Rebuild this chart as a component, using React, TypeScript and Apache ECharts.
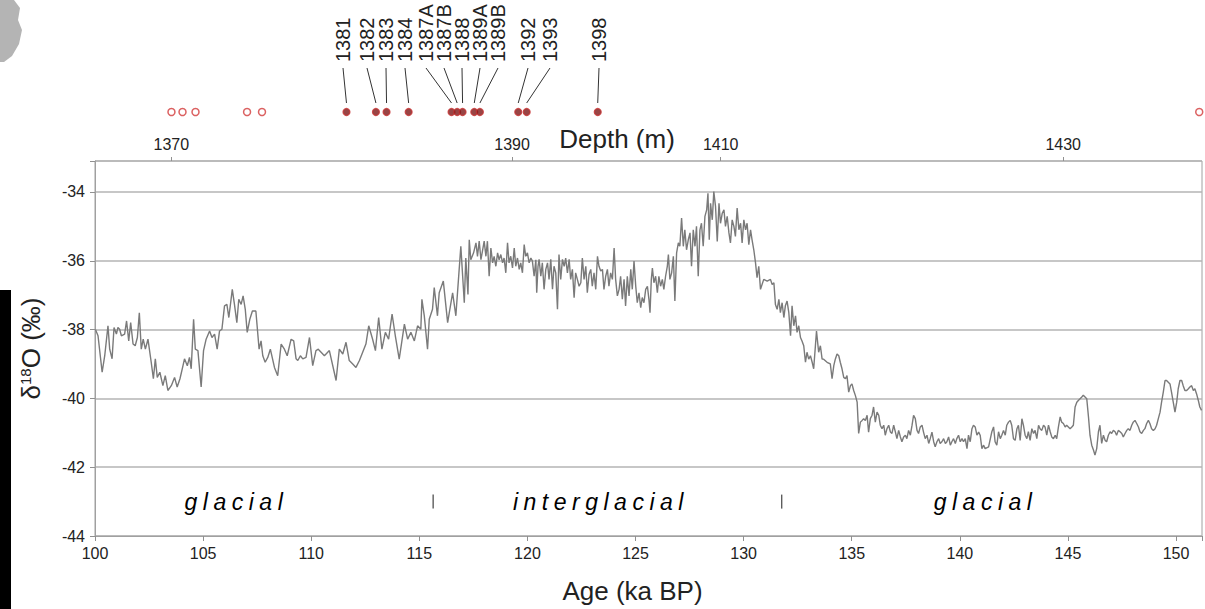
import React, { useEffect, useRef } from 'react';
import * as echarts from 'echarts';

// δ18O record, [age (ka BP), δ18O (‰)]
const glacialEarly: [number, number][] = [
  [100.02,-38.00],[100.14,-38.18],[100.33,-39.24],[100.45,-38.76],[100.60,-37.89],[100.68,-38.57],[100.79,-38.85],[100.88,-37.94],[100.99,-38.13],[101.06,-37.94],
  [101.14,-37.99],[101.22,-38.18],[101.37,-38.13],[101.46,-37.75],[101.56,-38.33],[101.65,-37.80],[101.76,-38.42],[101.86,-38.47],[101.96,-38.23],[102.05,-37.51],
  [102.14,-38.57],[102.23,-38.28],[102.33,-38.57],[102.45,-38.28],[102.60,-38.95],[102.70,-39.43],[102.79,-38.85],[102.88,-39.39],[103.00,-39.24],[103.14,-39.63],
  [103.25,-39.34],[103.37,-39.77],[103.53,-39.63],[103.68,-39.39],[103.80,-39.67],[103.93,-39.43],[104.07,-39.05],[104.14,-38.85],[104.27,-39.05],[104.37,-38.81],
  [104.45,-39.14],[104.56,-37.70],[104.64,-38.57],[104.76,-38.61],[104.91,-39.67],[105.02,-38.61],[105.14,-38.28],[105.30,-38.04],[105.41,-38.23],[105.53,-38.13],
  [105.65,-38.57],[105.76,-38.04],[105.87,-37.99],[105.99,-37.31],[106.10,-37.27],[106.19,-37.65],[106.35,-36.83],[106.45,-37.27],[106.56,-37.80],[106.65,-37.12],
  [106.76,-37.27],[106.85,-37.02],[106.95,-37.41],[107.04,-38.08],[107.16,-37.70],[107.28,-37.46],[107.44,-37.46],[107.59,-38.57],[107.68,-38.33],[107.76,-38.76],
  [107.87,-38.95],[107.99,-38.81],[108.11,-38.57],[108.30,-39.10],[108.45,-39.34],[108.61,-38.42],[108.76,-38.57],[108.89,-38.76],[109.07,-38.28],[109.19,-38.33],
  [109.30,-38.85],[109.38,-38.90],[109.50,-38.76],[109.61,-38.85],[109.76,-38.81],[109.92,-38.23],[110.07,-39.05],[110.22,-38.61],[110.33,-38.57],
];

const glacialRise: [number, number][] = [
  [110.38,-38.61],[110.61,-38.76],[110.84,-38.61],[111.15,-39.48],[111.30,-38.57],[111.46,-38.71],[111.61,-38.37],[111.76,-38.90],[111.92,-39.00],[112.07,-39.10],
  [112.23,-38.90],[112.38,-38.66],[112.53,-38.42],[112.66,-37.89],[112.84,-38.28],[112.97,-38.61],[113.12,-37.65],[113.27,-38.57],[113.43,-38.08],[113.58,-38.28],
  [113.74,-37.55],[113.89,-38.18],[114.07,-38.86],[114.31,-37.84],[114.46,-38.28],[114.61,-38.08],[114.77,-38.33],[114.92,-37.89],[115.07,-37.99],[115.12,-37.12],
  [115.23,-37.60],[115.38,-38.57],[115.46,-37.70],[115.61,-37.41],[115.69,-36.78],[115.84,-37.60],[115.92,-36.93],[116.11,-36.59],[116.31,-37.80],[116.54,-36.93],
  [116.69,-37.60],[116.92,-35.58],[117.08,-37.22],[117.15,-35.92],[117.25,-36.98],
];

const interglacialEarly: [number, number][] = [
  [117.31,-35.39],[117.38,-35.97],[117.51,-35.77],[117.62,-35.48],[117.69,-35.87],[117.77,-35.43],[117.85,-35.97],[117.92,-35.72],[118.00,-35.43],[118.08,-35.87],
  [118.15,-35.43],[118.23,-36.45],[118.31,-35.63],[118.39,-36.06],[118.46,-35.87],[118.54,-36.16],[118.62,-35.77],[118.69,-35.97],[118.77,-35.82],[118.85,-36.06],
  [118.92,-35.92],[119.00,-36.35],[119.08,-35.48],[119.15,-36.06],[119.23,-35.87],[119.31,-36.21],[119.39,-35.63],[119.46,-36.16],[119.54,-35.92],[119.62,-36.25],
  [119.69,-36.06],[119.77,-36.35],[119.85,-35.53],[119.92,-35.87],[120.00,-35.77],[120.08,-36.06],[120.16,-35.92],[120.23,-36.01],[120.31,-36.45],[120.39,-35.97],
  [120.43,-36.93],[120.49,-36.16],
];

const interglacialLate: [number, number][] = [
  [120.54,-35.96],[120.62,-36.45],[120.69,-36.06],[120.77,-36.83],[120.85,-36.25],[120.93,-36.06],[121.00,-36.54],[121.08,-35.96],[121.16,-36.83],[121.23,-36.16],
  [121.31,-36.35],[121.39,-37.41],[121.46,-35.82],[121.54,-36.54],[121.62,-35.96],[121.70,-36.16],[121.77,-35.92],[121.85,-36.35],[121.93,-35.96],[122.00,-36.54],
  [122.08,-36.25],[122.16,-37.07],[122.23,-36.35],[122.31,-36.54],[122.39,-36.74],[122.47,-36.64],[122.54,-35.92],[122.62,-36.54],[122.70,-36.16],[122.77,-36.93],
  [122.85,-36.40],[122.93,-36.25],[123.00,-36.74],[123.08,-36.35],[123.16,-36.83],[123.24,-35.87],[123.31,-36.16],[123.39,-36.30],[123.47,-36.25],[123.54,-36.83],
  [123.62,-36.45],[123.70,-36.25],[123.77,-36.74],[123.85,-36.35],[123.93,-36.54],[124.01,-35.63],[124.08,-36.54],[124.16,-37.02],[124.24,-36.83],[124.31,-36.45],
  [124.39,-37.12],[124.47,-36.54],[124.54,-37.31],[124.62,-36.45],[124.70,-37.02],[124.78,-36.25],[124.85,-36.83],[124.93,-36.01],[125.01,-36.74],[125.08,-37.22],
  [125.16,-36.93],[125.24,-37.36],[125.31,-37.07],[125.39,-37.22],[125.47,-36.83],[125.55,-36.74],[125.62,-37.12],[125.67,-37.51],[125.73,-36.54],[125.78,-36.21],
  [125.85,-36.64],[125.93,-36.45],[126.01,-36.93],[126.08,-36.45],[126.16,-36.74],[126.24,-36.54],[126.31,-36.83],[126.39,-36.45],[126.47,-36.16],[126.52,-35.82],
  [126.59,-36.54],[126.67,-36.35],[126.75,-35.87],[126.82,-37.17],[126.90,-35.77],[126.98,-35.48],[127.05,-35.58],[127.13,-34.76],[127.21,-35.58],[127.28,-35.10],
  [127.36,-35.68],[127.44,-35.39],[127.52,-35.19],[127.59,-36.16],[127.67,-35.10],[127.75,-35.58],[127.82,-35.00],[127.90,-36.45],[127.98,-35.10],[128.05,-34.91],
  [128.13,-35.58],[128.21,-34.71],[128.29,-34.52],[128.35,-34.04],[128.41,-35.39],[128.47,-34.33],[128.55,-34.81],[128.62,-33.99],[128.70,-34.42],[128.78,-35.44],
  [128.86,-34.33],[128.93,-34.91],[129.01,-34.62],[129.09,-34.52],[129.16,-35.00],[129.24,-34.71],[129.32,-35.19],[129.39,-35.48],[129.47,-34.81],[129.55,-35.00],
  [129.62,-35.29],[129.70,-34.47],[129.78,-35.10],[129.86,-34.91],[129.93,-35.48],[130.01,-34.81],[130.09,-35.10],[130.16,-34.91],[130.24,-35.53],[130.32,-35.10],
  [130.39,-35.39],[130.47,-35.68],[130.55,-36.06],[130.62,-36.49],[130.70,-36.16],
];

const termination: [number, number][] = [
  [130.78,-36.83],[130.93,-36.54],[131.09,-36.59],[131.24,-36.54],[131.32,-36.69],[131.40,-36.64],[131.47,-37.27],[131.55,-37.41],[131.63,-37.12],[131.70,-37.51],
  [131.78,-37.22],[131.86,-37.65],[131.93,-37.31],[132.01,-37.17],[132.09,-37.51],[132.17,-38.18],[132.24,-37.31],[132.32,-37.89],[132.40,-37.60],[132.47,-38.08],
  [132.55,-37.89],[132.63,-38.23],[132.70,-38.33],[132.78,-38.47],[132.86,-38.95],[132.93,-38.66],[133.01,-38.86],[133.09,-38.76],[133.17,-38.95],[133.24,-39.14],
  [133.32,-38.47],[133.37,-38.04],[133.47,-38.66],[133.55,-38.47],[133.63,-38.86],[133.70,-38.86],[133.86,-38.95],[134.01,-39.00],[134.09,-39.43],[134.17,-39.05],
  [134.24,-38.86],[134.32,-38.71],[134.40,-38.76],[134.47,-38.95],[134.55,-39.14],[134.63,-39.39],[134.71,-39.43],[134.78,-39.34],[134.86,-39.82],[134.94,-39.63],
  [135.01,-39.58],[135.09,-39.77],[135.17,-39.92],[135.25,-40.11],[135.32,-41.02],[135.40,-40.69],[135.48,-40.64],[135.55,-40.59],[135.63,-40.64],[135.71,-40.49],
  [135.78,-40.98],[135.86,-40.59],[135.94,-40.49],[136.01,-40.25],[136.09,-40.69],[136.17,-40.40],[136.25,-40.49],[136.32,-40.78],[136.40,-40.88],[136.48,-40.78],
  [136.55,-41.07],[136.63,-40.88],[136.71,-40.78],[136.79,-40.98],[136.86,-41.02],[136.94,-40.78],[137.02,-40.98],[137.09,-41.17],[137.17,-40.93],[137.25,-41.12],
  [137.32,-41.26],[137.40,-41.12],[137.48,-41.07],[137.55,-41.17],[137.63,-40.93],[137.71,-41.07],[137.79,-40.78],[137.86,-40.49],[137.94,-40.59],[138.02,-40.93],
  [138.09,-41.02],[138.17,-40.83],[138.25,-40.78],[138.32,-40.98],[138.40,-41.17],[138.48,-41.07],[138.56,-41.31],[138.63,-41.17],[138.71,-40.98],[138.79,-41.26],
  [138.86,-41.41],[138.94,-41.26],[139.02,-41.17],[139.09,-41.31],[139.17,-41.26],[139.25,-41.17],[139.33,-41.31],[139.40,-41.26],[139.48,-41.12],[139.56,-41.36],
  [139.63,-41.26],[139.71,-41.17],[139.79,-41.31],[139.86,-41.17],[139.94,-41.07],[140.02,-41.26],[140.10,-41.17],[140.17,-41.26],[140.25,-41.17],[140.33,-41.46],
  [140.40,-41.07],[140.48,-41.26],[140.56,-40.88],[140.63,-40.78],[140.71,-40.83],[140.79,-41.07],[140.87,-40.98],
];

const glacialLate: [number, number][] = [
  [140.94,-41.07],[141.02,-41.46],[141.10,-41.36],[141.17,-41.46],[141.33,-41.41],[141.48,-40.97],[141.56,-40.83],[141.63,-41.26],[141.71,-41.36],[141.79,-40.97],
  [141.87,-41.17],[141.94,-41.07],[142.02,-40.93],[142.10,-41.07],[142.17,-40.78],[142.25,-40.69],[142.33,-40.64],[142.40,-40.78],[142.48,-41.17],[142.56,-41.22],
  [142.64,-40.88],[142.71,-40.78],[142.79,-41.22],[142.87,-40.59],[142.94,-40.78],[143.02,-41.07],[143.10,-41.17],[143.17,-40.97],[143.25,-41.22],[143.33,-40.88],
  [143.41,-41.02],[143.48,-40.93],[143.56,-41.17],[143.64,-40.78],[143.71,-40.88],[143.79,-40.93],[143.87,-40.78],[143.94,-40.83],[144.02,-41.07],[144.10,-40.78],
  [144.18,-40.97],[144.25,-41.12],[144.33,-41.17],[144.41,-41.07],[144.48,-41.17],[144.56,-40.83],[144.64,-40.54],[144.71,-40.69],[144.79,-40.73],[144.87,-40.83],
  [144.94,-40.78],[145.02,-40.83],[145.10,-40.88],[145.18,-40.83],[145.25,-40.78],[145.33,-40.25],[145.41,-40.11],[145.48,-40.06],[145.56,-40.01],[145.64,-39.96],
  [145.71,-39.91],[145.79,-39.96],[145.87,-40.01],[145.95,-40.54],[146.02,-41.07],[146.10,-41.36],[146.18,-41.50],[146.25,-41.65],[146.33,-41.46],[146.41,-40.97],
  [146.48,-40.78],[146.56,-41.31],[146.64,-41.07],[146.72,-41.22],[146.79,-41.26],[146.87,-41.07],[146.95,-40.97],[147.02,-41.02],[147.10,-40.93],[147.18,-40.97],
  [147.25,-41.07],[147.33,-40.93],[147.41,-40.97],[147.49,-41.02],[147.56,-41.12],[147.64,-41.02],[147.72,-40.93],[147.79,-40.88],[147.87,-40.93],[147.95,-40.78],
  [148.02,-40.69],[148.10,-40.64],[148.18,-40.73],[148.26,-40.83],[148.33,-40.97],[148.41,-41.02],[148.49,-40.93],[148.56,-40.88],[148.64,-40.73],[148.72,-40.64],
  [148.79,-40.73],[148.87,-40.88],[148.95,-40.93],[149.03,-40.88],[149.10,-40.78],[149.18,-40.59],[149.26,-40.40],[149.33,-40.11],[149.41,-39.82],[149.49,-39.48],
  [149.56,-39.48],[149.64,-39.53],[149.72,-39.58],[149.79,-39.82],[149.87,-40.11],[149.95,-40.40],[150.03,-40.11],[150.10,-39.72],[150.18,-39.48],[150.26,-39.48],
  [150.33,-39.63],[150.41,-39.77],[150.49,-39.77],[150.57,-39.72],[150.64,-39.67],[150.72,-39.63],[150.80,-39.77],[150.87,-39.72],[150.95,-39.87],[151.03,-40.06],
  [151.10,-40.25],[151.18,-40.35],
];

// top depth axis: ages at which depth ticks fall
const depthTickAges = [103.53, 119.29, 128.94, 144.78];
const depthTickLabels = ['1370', '1390', '1410', '1430'];

// samples
const openSampleAges = [103.53, 104.04, 104.64, 107.02, 107.71, 150.98];
const labeledSampleAges = [111.61, 112.97, 113.46, 114.48, 116.46, 116.72, 116.97, 117.51, 117.77, 119.54, 119.93, 123.21];
const labeledSampleNames = ['1381', '1382', '1383', '1384', '1387A', '1387B', '1388', '1389A', '1389B', '1392', '1393', '1398'];
const sampleLabelX = [343, 367, 386, 405, 426, 444, 462, 480, 498, 528, 550, 599];

// climate phases
const phaseAges = [106.54, 123.4, 141.19];
const phaseNames = ['glacial', 'interglacial', 'glacial'];
const phaseLevel = -43;
const boundaryAges = [115.64, 131.76];

const FONT = 'Liberation Sans, Arial, Helvetica, sans-serif';

export default function App() {
  const ref = useRef<HTMLDivElement>(null);

  useEffect(() => {
    document.body.style.margin = '0';
    const el = ref.current!;
    const chart = echarts.init(el, null, { renderer: 'svg' });
    const record = [...glacialEarly, ...glacialRise, ...interglacialEarly, ...interglacialLate, ...termination, ...glacialLate];

    const option: any = {
      animation: false,
      backgroundColor: '#ffffff',
      textStyle: { fontFamily: FONT },
      grid: [
        { left: 95, right: 1, top: 161, bottom: 71, show: true, borderColor: '#a0a0a0', borderWidth: 1, backgroundColor: 'transparent' },
        { left: 95, right: 1, top: 104, height: 16 },
      ],
      xAxis: [
        {
          type: 'value', gridIndex: 0, position: 'bottom', min: 100, max: 151.2, interval: 5,
          axisLine: { show: true, lineStyle: { color: '#a0a0a0' } },
          axisTick: { show: true, length: 5, lineStyle: { color: '#909090' } },
          axisLabel: { fontSize: 16, color: '#222', margin: 9, fontFamily: FONT,
            formatter: (v: number) => (Math.abs(v - Math.round(v)) < 1e-6 && Math.round(v) % 5 === 0 ? String(Math.round(v)) : '') },
          splitLine: { show: false },
          name: 'Age (ka BP)', nameLocation: 'middle', nameGap: 42,
          nameTextStyle: { fontSize: 26, color: '#222', fontFamily: FONT, padding: [0, 32, 0, 0] },
        },
        {
          type: 'value', gridIndex: 0, position: 'top', min: 100, max: 151.2,
          axisLine: { show: false },
          axisTick: { show: true, length: 4, customValues: depthTickAges, lineStyle: { color: '#909090' } },
          axisLabel: {
            show: true, customValues: depthTickAges, fontSize: 16, color: '#222', margin: 9, fontFamily: FONT,
            formatter: (v: number) => {
              const i = depthTickAges.findIndex((a) => Math.abs(a - v) < 0.05);
              return i >= 0 ? depthTickLabels[i] : '';
            },
          },
          splitLine: { show: false },
        },
        { type: 'value', gridIndex: 1, min: 100, max: 151.2, show: false },
      ],
      yAxis: [
        {
          type: 'value', gridIndex: 0, min: -44, max: -33.1, interval: 2,
          axisLine: { show: true, lineStyle: { color: '#a0a0a0' } },
          axisTick: { show: true, length: 5, lineStyle: { color: '#909090' } },
          axisLabel: { fontSize: 16, color: '#222', margin: 10, fontFamily: FONT,
            formatter: (v: number) => (Math.abs(v - Math.round(v)) < 1e-6 ? String(Math.round(v)) : '') },
          splitLine: { show: true, lineStyle: { color: '#b4b4b4', width: 1.5 } },
          name: '{a|δ}{s|18}{a|O (‰)}', nameLocation: 'middle', nameGap: 51, nameRotate: 90,
          nameTextStyle: {
            rich: {
              a: { fontSize: 26, color: '#222', fontFamily: FONT },
              s: { fontSize: 15, color: '#222', fontFamily: FONT, padding: [0, 0, 11, 0] },
            },
          },
        },
        { type: 'value', gridIndex: 1, min: 0, max: 1, show: false },
      ],
      series: [
        {
          type: 'line', name: 'd18O', xAxisIndex: 0, yAxisIndex: 0, data: record, showSymbol: false,
          lineStyle: { color: '#7a7a7a', width: 1.4 }, z: 3,
        },
        {
          type: 'scatter', name: 'phases', xAxisIndex: 0, yAxisIndex: 0, symbolSize: 1,
          itemStyle: { color: 'rgba(0,0,0,0)' },
          data: phaseAges.map((a, i) => [a, phaseLevel, phaseNames[i]]),
          label: {
            show: true, position: 'inside', formatter: (p: any) => p.data[2],
            fontSize: 23, fontStyle: 'italic', color: '#000', fontFamily: FONT, textBorderWidth: 0, opacity: 1,
          },
        },
        {
          type: 'scatter', name: 'boundaries', xAxisIndex: 0, yAxisIndex: 0, symbol: 'rect', symbolSize: [1.4, 14],
          itemStyle: { color: '#333' },
          data: boundaryAges.map((a) => [a, phaseLevel]),
        },
        {
          type: 'scatter', name: 'open samples', xAxisIndex: 2, yAxisIndex: 1, symbol: 'circle', symbolSize: 7, clip: false,
          itemStyle: { color: '#ffffff', borderColor: '#d23a3a', borderWidth: 1.5 },
          data: openSampleAges.map((a) => [a, 0.5]),
        },
        {
          type: 'scatter', name: 'dated samples', xAxisIndex: 2, yAxisIndex: 1, symbol: 'circle', symbolSize: 7, clip: false,
          itemStyle: { color: '#7e1616', borderColor: '#c83232', borderWidth: 1.2 },
          data: labeledSampleAges.map((a) => [a, 0.5]),
        },
      ],
    };
    chart.setOption(option);

    const graphics: any[] = [];
    labeledSampleAges.forEach((a, i) => {
      const px = chart.convertToPixel({ xAxisIndex: 2 }, a) as number;
      graphics.push({
        type: 'line', silent: true,
        shape: { x1: sampleLabelX[i], y1: 68, x2: px, y2: 103 },
        style: { stroke: '#333', lineWidth: 1 },
      });
      graphics.push({
        type: 'text', x: sampleLabelX[i], y: 62, rotation: Math.PI / 2, silent: true,
        style: { text: labeledSampleNames[i], fill: '#222', font: `20px ${FONT}`, align: 'left', verticalAlign: 'middle' },
      });
    });
    graphics.push({
      type: 'text', x: 617, y: 139, silent: true,
      style: { text: 'Depth (m)', fill: '#222', font: `26px ${FONT}`, align: 'center', verticalAlign: 'middle' },
    });
    // scan artefacts at the left edge of the source figure
    graphics.push({ type: 'rect', shape: { x: 0, y: 290, width: 11, height: 319 }, style: { fill: '#000' }, silent: true });
    graphics.push({
      type: 'polygon', silent: true,
      shape: { points: [[0, 0], [14, 0], [20, 8], [18, 20], [22, 30], [19, 44], [12, 56], [4, 62], [0, 62]] },
      style: { fill: '#b4b4b4' },
    });
    chart.setOption({ graphic: graphics });

    el.querySelectorAll('text').forEach((t) => {
      const s = (t.textContent || '').trim();
      if (s === 'glacial' || s === 'interglacial') t.setAttribute('letter-spacing', '5.5');
    });

    return () => chart.dispose();
  }, []);

  return <div ref={ref} style={{ position: 'absolute', left: 0, top: 0, width: 1205, height: 609 }} />;
}
